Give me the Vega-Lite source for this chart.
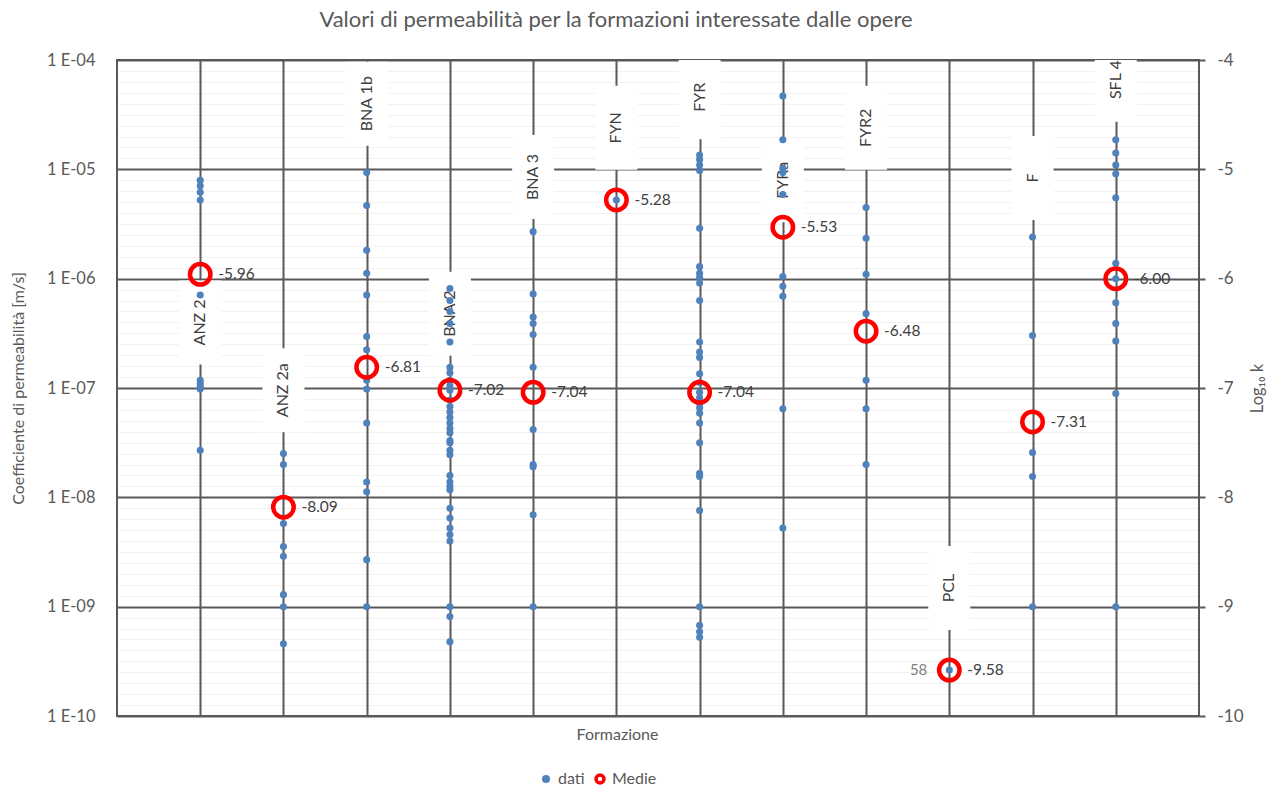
{
  "$schema": "https://vega.github.io/schema/vega-lite/v6.json",
  "width": 1082,
  "height": 656,
  "autosize": {"type": "none"},
  "padding": {"left": 117, "top": 60, "right": 73, "bottom": 75},
  "background": "white",
  "config": {
    "font": "Lato",
    "view": {"stroke": "#595959", "strokeWidth": 2},
    "locale": {"number": {"decimal": ".", "thousands": ",", "grouping": [3], "currency": ["", ""], "minus": "-"}}
  },
  "title": {
    "text": "Valori di permeabilità per la formazioni interessate dalle opere",
    "font": "Lato",
    "fontSize": 22,
    "fontWeight": "normal",
    "color": "#595959",
    "frame": "group",
    "dx": -42,
    "offset": 19
  },
  "datasets": {
    "dati": [
      {"f": "ANZ 2", "logk": -5.10}, {"f": "ANZ 2", "logk": -5.15}, {"f": "ANZ 2", "logk": -5.21}, {"f": "ANZ 2", "logk": -5.28},
      {"f": "ANZ 2", "logk": -6.15}, {"f": "ANZ 2", "logk": -6.93}, {"f": "ANZ 2", "logk": -6.96}, {"f": "ANZ 2", "logk": -6.99},
      {"f": "ANZ 2", "logk": -7.01}, {"f": "ANZ 2", "logk": -7.57},
      {"f": "ANZ 2a", "logk": -7.60}, {"f": "ANZ 2a", "logk": -7.70}, {"f": "ANZ 2a", "logk": -8.24}, {"f": "ANZ 2a", "logk": -8.45},
      {"f": "ANZ 2a", "logk": -8.54}, {"f": "ANZ 2a", "logk": -8.89}, {"f": "ANZ 2a", "logk": -9.00}, {"f": "ANZ 2a", "logk": -9.34},
      {"f": "BNA 1b", "logk": -5.03}, {"f": "BNA 1b", "logk": -5.33}, {"f": "BNA 1b", "logk": -5.74}, {"f": "BNA 1b", "logk": -5.95},
      {"f": "BNA 1b", "logk": -6.15}, {"f": "BNA 1b", "logk": -6.53}, {"f": "BNA 1b", "logk": -6.65}, {"f": "BNA 1b", "logk": -6.93},
      {"f": "BNA 1b", "logk": -7.01}, {"f": "BNA 1b", "logk": -7.32}, {"f": "BNA 1b", "logk": -7.86}, {"f": "BNA 1b", "logk": -7.95},
      {"f": "BNA 1b", "logk": -8.57}, {"f": "BNA 1b", "logk": -9.00},
      {"f": "BNA 2", "logk": -6.09}, {"f": "BNA 2", "logk": -6.20}, {"f": "BNA 2", "logk": -6.30}, {"f": "BNA 2", "logk": -6.41},
      {"f": "BNA 2", "logk": -6.58}, {"f": "BNA 2", "logk": -6.81}, {"f": "BNA 2", "logk": -6.86}, {"f": "BNA 2", "logk": -6.93},
      {"f": "BNA 2", "logk": -6.98}, {"f": "BNA 2", "logk": -7.02}, {"f": "BNA 2", "logk": -7.11}, {"f": "BNA 2", "logk": -7.17},
      {"f": "BNA 2", "logk": -7.22}, {"f": "BNA 2", "logk": -7.27}, {"f": "BNA 2", "logk": -7.32}, {"f": "BNA 2", "logk": -7.37},
      {"f": "BNA 2", "logk": -7.41}, {"f": "BNA 2", "logk": -7.48}, {"f": "BNA 2", "logk": -7.50}, {"f": "BNA 2", "logk": -7.57},
      {"f": "BNA 2", "logk": -7.61}, {"f": "BNA 2", "logk": -7.80}, {"f": "BNA 2", "logk": -7.86}, {"f": "BNA 2", "logk": -7.90},
      {"f": "BNA 2", "logk": -7.93}, {"f": "BNA 2", "logk": -8.10}, {"f": "BNA 2", "logk": -8.19}, {"f": "BNA 2", "logk": -8.28},
      {"f": "BNA 2", "logk": -8.34}, {"f": "BNA 2", "logk": -8.40}, {"f": "BNA 2", "logk": -9.00}, {"f": "BNA 2", "logk": -9.09},
      {"f": "BNA 2", "logk": -9.32},
      {"f": "BNA 3", "logk": -5.57}, {"f": "BNA 3", "logk": -6.14}, {"f": "BNA 3", "logk": -6.35}, {"f": "BNA 3", "logk": -6.41},
      {"f": "BNA 3", "logk": -6.51}, {"f": "BNA 3", "logk": -6.81}, {"f": "BNA 3", "logk": -7.38}, {"f": "BNA 3", "logk": -7.70},
      {"f": "BNA 3", "logk": -7.72}, {"f": "BNA 3", "logk": -8.16}, {"f": "BNA 3", "logk": -9.00},
      {"f": "FYN", "logk": -5.28},
      {"f": "FYR", "logk": -4.87}, {"f": "FYR", "logk": -4.91}, {"f": "FYR", "logk": -4.96}, {"f": "FYR", "logk": -5.01},
      {"f": "FYR", "logk": -5.54}, {"f": "FYR", "logk": -5.89}, {"f": "FYR", "logk": -5.95}, {"f": "FYR", "logk": -5.99},
      {"f": "FYR", "logk": -6.04}, {"f": "FYR", "logk": -6.20}, {"f": "FYR", "logk": -6.58}, {"f": "FYR", "logk": -6.67},
      {"f": "FYR", "logk": -6.72}, {"f": "FYR", "logk": -6.87}, {"f": "FYR", "logk": -6.95}, {"f": "FYR", "logk": -7.04},
      {"f": "FYR", "logk": -7.09}, {"f": "FYR", "logk": -7.14}, {"f": "FYR", "logk": -7.18}, {"f": "FYR", "logk": -7.23},
      {"f": "FYR", "logk": -7.32}, {"f": "FYR", "logk": -7.50}, {"f": "FYR", "logk": -7.78}, {"f": "FYR", "logk": -7.81},
      {"f": "FYR", "logk": -8.12}, {"f": "FYR", "logk": -9.00}, {"f": "FYR", "logk": -9.17}, {"f": "FYR", "logk": -9.23},
      {"f": "FYR", "logk": -9.28},
      {"f": "FYRa", "logk": -4.33}, {"f": "FYRa", "logk": -4.73}, {"f": "FYRa", "logk": -4.99}, {"f": "FYRa", "logk": -5.03},
      {"f": "FYRa", "logk": -5.23}, {"f": "FYRa", "logk": -5.98}, {"f": "FYRa", "logk": -6.07}, {"f": "FYRa", "logk": -6.16},
      {"f": "FYRa", "logk": -7.19}, {"f": "FYRa", "logk": -8.28},
      {"f": "FYR2", "logk": -5.35}, {"f": "FYR2", "logk": -5.63}, {"f": "FYR2", "logk": -5.96}, {"f": "FYR2", "logk": -6.32},
      {"f": "FYR2", "logk": -6.93}, {"f": "FYR2", "logk": -7.19}, {"f": "FYR2", "logk": -7.70},
      {"f": "PCL", "logk": -9.58},
      {"f": "F", "logk": -5.62}, {"f": "F", "logk": -6.52}, {"f": "F", "logk": -7.59}, {"f": "F", "logk": -7.81}, {"f": "F", "logk": -9.00},
      {"f": "SFL 4", "logk": -4.73}, {"f": "SFL 4", "logk": -4.85}, {"f": "SFL 4", "logk": -4.96}, {"f": "SFL 4", "logk": -5.04},
      {"f": "SFL 4", "logk": -5.26}, {"f": "SFL 4", "logk": -5.86}, {"f": "SFL 4", "logk": -6.00}, {"f": "SFL 4", "logk": -6.22},
      {"f": "SFL 4", "logk": -6.41}, {"f": "SFL 4", "logk": -6.57}, {"f": "SFL 4", "logk": -7.05}, {"f": "SFL 4", "logk": -9.00}
    ],
    "medie": [
      {"f": "ANZ 2", "logk": -5.96},
      {"f": "ANZ 2a", "logk": -8.09},
      {"f": "BNA 1b", "logk": -6.81},
      {"f": "BNA 2", "logk": -7.02},
      {"f": "BNA 3", "logk": -7.04},
      {"f": "FYN", "logk": -5.28},
      {"f": "FYR", "logk": -7.04},
      {"f": "FYRa", "logk": -5.53},
      {"f": "FYR2", "logk": -6.48},
      {"f": "PCL", "logk": -9.58},
      {"f": "F", "logk": -7.31},
      {"f": "SFL 4", "logk": -6.00}
    ],
    "etichette": [
      {"f": "ANZ 2", "pos": -6.40},
      {"f": "ANZ 2a", "pos": -7.02},
      {"f": "BNA 1b", "pos": -4.40},
      {"f": "BNA 2", "pos": -6.32},
      {"f": "BNA 3", "pos": -5.07},
      {"f": "FYN", "pos": -4.62},
      {"f": "FYR", "pos": -4.34},
      {"f": "FYRa", "pos": -5.10},
      {"f": "FYR2", "pos": -4.62},
      {"f": "PCL", "pos": -8.83},
      {"f": "F", "pos": -5.08},
      {"f": "SFL 4", "pos": -4.18}
    ]
  },
  "encoding": {
    "x": {
      "field": "f",
      "type": "nominal",
      "scale": {"type": "point", "padding": 1, "domain": ["ANZ 2", "ANZ 2a", "BNA 1b", "BNA 2", "BNA 3", "FYN", "FYR", "FYRa", "FYR2", "PCL", "F", "SFL 4"]},
      "axis": {
        "title": "Formazione",
        "labels": false,
        "ticks": false,
        "domain": false,
        "grid": true,
        "gridColor": "#595959",
        "gridWidth": 2,
        "titleFont": "Lato",
        "titleFontSize": 16,
        "titleFontWeight": "normal",
        "titleColor": "#595959",
        "titleX": 500,
        "titleY": 18,
        "titleBaseline": "middle"
      }
    }
  },
  "layer": [
    {
      "data": {"name": "etichette"},
      "mark": {"type": "point", "shape": "M-0.5,-1H0.5V1H-0.5Z", "filled": true, "fill": "white", "strokeWidth": 0, "size": 7056, "opacity": 1, "clip": true},
      "encoding": {
        "y": {
          "field": "pos",
          "type": "quantitative",
          "scale": {"domain": [-10, -4], "nice": false, "zero": false},
          "axis": {
            "orient": "left",
            "values": [-10, -9.9, -9.8, -9.7, -9.6, -9.5, -9.4, -9.3, -9.2, -9.1,
                       -9, -8.9, -8.8, -8.7, -8.6, -8.5, -8.4, -8.3, -8.2, -8.1,
                       -8, -7.9, -7.8, -7.7, -7.6, -7.5, -7.4, -7.3, -7.2, -7.1,
                       -7, -6.9, -6.8, -6.7, -6.6, -6.5, -6.4, -6.3, -6.2, -6.1,
                       -6, -5.9, -5.8, -5.7, -5.6, -5.5, -5.4, -5.3, -5.2, -5.1,
                       -5, -4.9, -4.8, -4.7, -4.6, -4.5, -4.4, -4.3, -4.2, -4.1, -4],
            "labelExpr": "abs(datum.value - round(datum.value)) < 0.001 ? '1 E-' + (round(datum.value) > -10 ? '0' : '') + (-round(datum.value)) : ''",
            "labelOverlap": false,
            "labelBound": false,
            "labelFlush": false,
            "ticks": false,
            "domain": false,
            "grid": true,
            "gridColor": "#595959",
            "gridOpacity": {"condition": {"test": "abs(datum.value - round(datum.value)) < 0.001", "value": 1}, "value": 0.08},
            "gridWidth": {"condition": {"test": "abs(datum.value - round(datum.value)) < 0.001", "value": 2}, "value": 1},
            "labelFont": "Lato",
            "labelFontSize": 16.5,
            "labelColor": "#595959",
            "labelPadding": 22,
            "title": "Coefficiente di permeabilità [m/s]",
            "titleFont": "Lato",
            "titleFontSize": 16,
            "titleFontWeight": "normal",
            "titleColor": "#595959",
            "titlePadding": 20
          }
        }
      }
    },
    {
      "data": {"name": "etichette"},
      "mark": {"type": "text", "angle": 270, "align": "center", "baseline": "middle", "font": "Lato", "fontSize": 16, "color": "#404040"},
      "encoding": {
        "y": {"field": "pos", "type": "quantitative", "axis": null},
        "text": {"field": "f", "type": "nominal"}
      }
    },
    {
      "data": {"name": "dati"},
      "mark": {"type": "circle", "size": 50, "opacity": 1},
      "encoding": {
        "y": {
          "field": "logk",
          "type": "quantitative",
          "axis": {
            "orient": "right",
            "values": [-10, -9, -8, -7, -6, -5, -4],
            "labelExpr": "'' + datum.value",
            "grid": false,
            "domain": false,
            "ticks": true,
            "tickSize": 6,
            "tickWidth": 2,
            "tickColor": "#595959",
            "labelFont": "Lato",
            "labelFontSize": 17,
            "labelColor": "#595959",
            "labelPadding": 12,
            "labelFlush": false,
            "title": "Log₁₀ k",
            "titleAngle": 270,
            "titleFont": "Lato",
            "titleFontSize": 16.5,
            "titleFontWeight": "normal",
            "titleColor": "#595959",
            "titlePadding": 22
          }
        },
        "fill": {
          "datum": "dati",
          "type": "nominal",
          "scale": {"domain": ["dati", "Medie"], "range": ["#4f81bd", "#ffffff"]},
          "legend": {
            "orient": "none", "legendX": 421, "legendY": 711, "direction": "horizontal", "title": null,
            "symbolType": "circle", "symbolSize": 64, "symbolStrokeWidth": 3.5,
            "labelFont": "Lato", "labelFontSize": 16, "labelColor": "#595959", "columnPadding": 4
          }
        }
      }
    },
    {
      "data": {"name": "medie"},
      "mark": {"type": "point", "filled": false, "size": 420, "strokeWidth": 4.5, "opacity": 1},
      "encoding": {
        "y": {"field": "logk", "type": "quantitative", "axis": null},
        "stroke": {
          "datum": "Medie",
          "type": "nominal",
          "scale": {"domain": ["dati", "Medie"], "range": ["transparent", "#ff0000"]},
          "legend": {
            "orient": "none", "legendX": 421, "legendY": 711, "direction": "horizontal", "title": null,
            "symbolType": "circle", "symbolSize": 64, "symbolStrokeWidth": 3.5,
            "labelFont": "Lato", "labelFontSize": 16, "labelColor": "#595959", "columnPadding": 4
          }
        }
      }
    },
    {
      "data": {"name": "medie"},
      "mark": {"type": "text", "align": "left", "baseline": "middle", "dx": 18, "font": "Lato", "fontSize": 15.5, "color": "#404040"},
      "encoding": {
        "y": {"field": "logk", "type": "quantitative", "axis": null},
        "text": {"field": "logk", "type": "quantitative", "format": ".2f"}
      }
    },
    {
      "data": {"values": [{"f": "PCL", "logk": -9.58, "nota": "58"}]},
      "mark": {"type": "text", "align": "right", "baseline": "middle", "dx": -22, "font": "Lato", "fontSize": 15, "color": "#7f7f7f"},
      "encoding": {
        "y": {"field": "logk", "type": "quantitative", "axis": null},
        "text": {"field": "nota", "type": "nominal"}
      }
    }
  ],
  "resolve": {"axis": {"y": "independent"}}
}
